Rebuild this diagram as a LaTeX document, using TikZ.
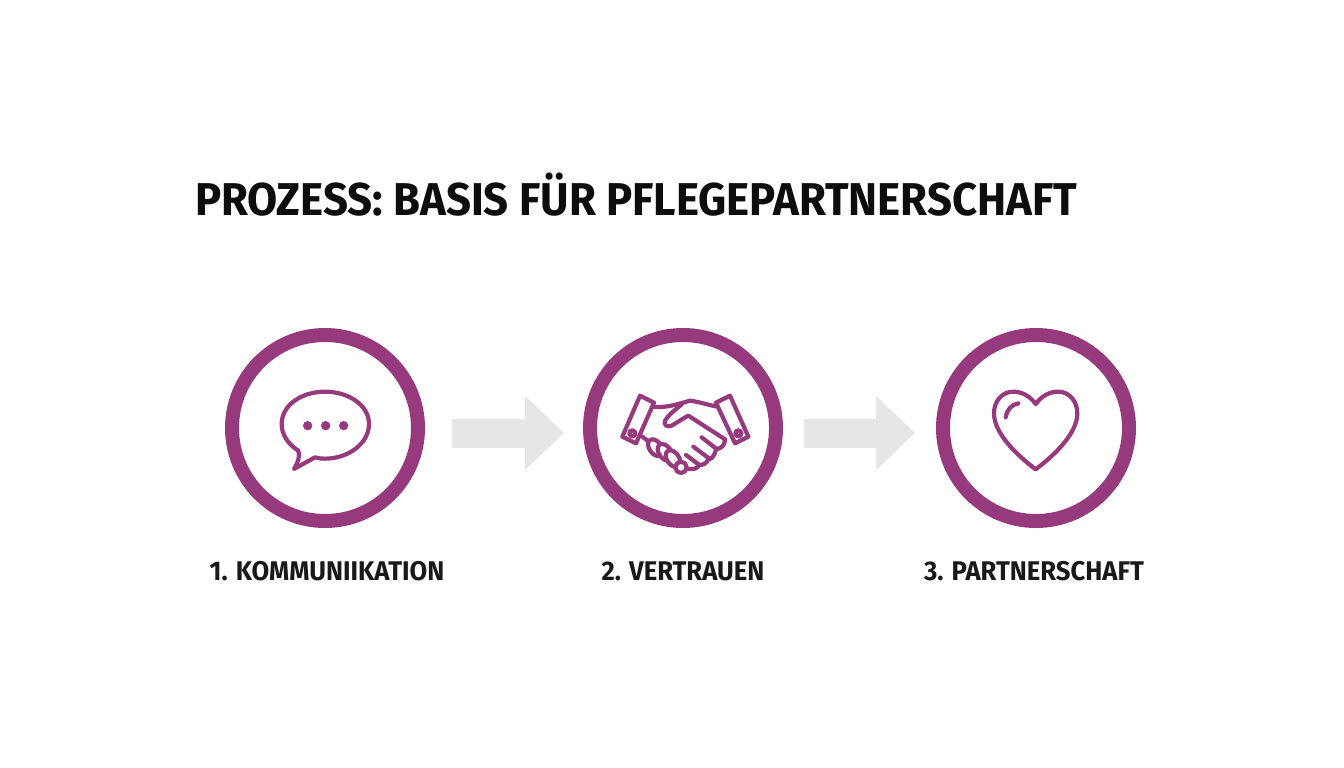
\documentclass[tikz,border=0pt]{standalone}
\usepackage{fontspec}
\setmainfont{Fira Sans}
\usetikzlibrary{arrows.meta}
\definecolor{plum}{HTML}{963A7D}
\definecolor{arrowgray}{HTML}{E5E6E7}
\tikzset{
	stepring/.style={circle,draw=plum,line width=14,minimum size=186,inner sep=0,fill=white},
	steplabel/.style={font=\bfseries\fontsize{27}{30}\selectfont,text=black!90,xscale=.95},
	flowarrow/.style={draw=arrowgray,line width=29,-{Triangle[length=39,width=72]}},
	iconline/.style={draw=plum,line width=4.2,line join=round,line cap=round}
}
\begin{document}
\begin{tikzpicture}[x=1pt,y=-1pt]
	\useasboundingbox (0,0) rectangle (1344,768);
	\fill[white] (0,0) rectangle (1344,768);
	\node[anchor=west,inner sep=0,xscale=.95,font=\bfseries\fontsize{46}{50}\selectfont,text=black!95] (title) at (195,195) {PROZESS: BASIS FÜR PFLEGEPARTNERSCHAFT};

	\node[stepring] (komm) at (325,428) {};
	\node[stepring] (vertrauen) at (683,428) {};
	\node[stepring] (partner) at (1036,428) {};

	\node[steplabel] (kommlabel) at (327,571) {1. KOMMUNIIKATION};
	\node[steplabel] (vertrauenlabel) at (683,571) {2. VERTRAUEN};
	\node[steplabel] (partnerlabel) at (1034,571) {3. PARTNERSCHAFT};

	\draw[flowarrow,shorten <=27,shorten >=19] ([yshift=-5]komm.east) -- ([yshift=-5]vertrauen.west);
	\draw[flowarrow,shorten <=21,shorten >=21] ([yshift=-5]vertrauen.east) -- ([yshift=-5]partner.west);

	% speech bubble
	\begin{scope}[shift={(270,380)},scale=1/3]
		\draw[iconline] (85,212) .. controls (50,190) and (35,160) .. (35,132)
			.. controls (35,75) and (95,35) .. (165,35)
			.. controls (235,35) and (297,75) .. (297,132)
			.. controls (297,190) and (235,236) .. (165,236)
			.. controls (155,236) and (145,235) .. (135,232) -- (72,267)
			.. controls (85,245) and (90,230) .. (85,212) -- cycle;
		\foreach \q in {113,167,221}{
			\fill[plum] (\q,137) circle (14);
		}
	\end{scope}

	% handshake
	\begin{scope}[shift={(610,380)},scale=1/3]
		\draw[iconline] (90,47) -- (132,68) -- (78,190) -- (37,170) -- cycle;
		\draw[iconline] (360,47) -- (318,68) -- (375,190) -- (415,170) -- cycle;
		\draw[iconline] (67,160) circle (9);
		\draw[iconline] (385,160) circle (9);
		\draw[iconline] (132,80) .. controls (165,85) and (205,72) .. (240,62)
			.. controls (265,65) and (295,75) .. (322,80);
		\draw[iconline] (215,73) .. controls (195,90) and (175,105) .. (165,122)
			.. controls (160,135) and (172,143) .. (185,137)
			.. controls (200,128) and (220,115) .. (235,107)
			-- (345,178);
		\draw[iconline] (345,178) .. controls (345,195) and (335,205) .. (318,208)
			.. controls (315,225) and (305,238) .. (295,238)
			.. controls (290,250) and (280,255) .. (268,255)
			.. controls (262,268) and (245,270) .. (228,265);
		\draw[iconline] (275,172) -- (320,207);
		\draw[iconline] (250,200) -- (298,236);
		\draw[iconline] (228,225) -- (268,255);
		\draw[iconline] (97,170) -- (120,188);
		\foreach \x/\y in {136/203,165/217,189/236}{
			\draw[iconline,fill=white,rotate around={-55:(\x,\y)}] (\x,\y) ellipse (28 and 18);
		}
		\draw[iconline,fill=white] (213,262) circle (17);
	\end{scope}

	% heart
	\begin{scope}[shift={(980,380)},scale=1/3]
		\draw[iconline] (167,72) .. controls (150,48) and (125,35) .. (100,35)
			.. controls (65,35) and (42,65) .. (42,100)
			.. controls (42,160) and (110,225) .. (167,268)
			.. controls (224,225) and (292,160) .. (292,100)
			.. controls (292,65) and (269,35) .. (234,35)
			.. controls (209,35) and (184,48) .. (167,72) -- cycle;
		\draw[iconline] (77,112) .. controls (80,90) and (95,73) .. (115,70);
	\end{scope}
\end{tikzpicture}
\end{document}
